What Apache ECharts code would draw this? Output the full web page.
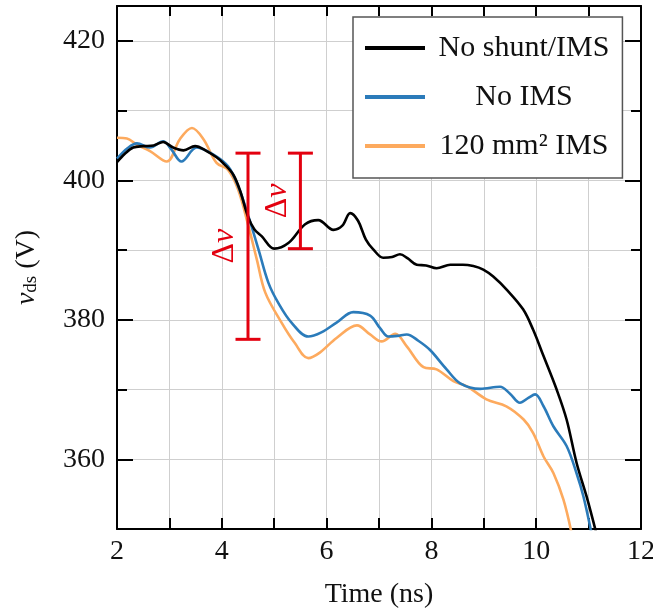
<!DOCTYPE html>
<html>
<head>
<meta charset="utf-8">
<script src="https://cdn.jsdelivr.net/npm/echarts@6/dist/echarts.min.js"></script>
<style>
  html, body { margin: 0; padding: 0; background: #fff; }
  #chart { width: 653px; height: 609px; }
</style>
</head>
<body>
<div id="chart"></div>
<script>
// ---- data ----
const seriesNames = ['No shunt/IMS', 'No IMS', '120 mm² IMS'];

const tBlack = [2.0, 2.15, 2.31, 2.5, 2.7, 2.88, 3.07, 3.27, 3.49, 3.71, 3.9, 4.05, 4.22, 4.35, 4.5, 4.62, 4.76, 5.0, 5.27, 5.59, 5.84, 6.13, 6.3, 6.45, 6.6, 6.75, 6.89, 7.08, 7.25, 7.4, 7.55, 7.72, 7.9, 8.1, 8.36, 8.6, 8.8, 8.99, 9.18, 9.44, 9.75, 9.94, 10.14, 10.39, 10.58, 10.77, 10.96, 11.14];
const vBlack = [402.6, 403.8, 404.7, 404.9, 405.0, 405.5, 404.7, 404.3, 404.9, 404.2, 403.3, 402.3, 400.8, 398.5, 394.8, 393.0, 392.0, 390.2, 391.0, 393.7, 394.3, 392.9, 393.5, 395.3, 394.2, 391.5, 390.1, 388.9, 389.0, 389.4, 388.8, 387.9, 387.8, 387.4, 387.9, 387.9, 387.7, 387.2, 386.2, 384.3, 381.5, 378.6, 374.8, 370.0, 365.7, 359.5, 354.7, 349.6];

const tBlue = [2.0, 2.2, 2.38, 2.63, 2.88, 3.04, 3.23, 3.52, 3.84, 4.12, 4.31, 4.51, 4.70, 4.89, 5.08, 5.33, 5.65, 5.9, 6.19, 6.51, 6.83, 7.02, 7.18, 7.35, 7.53, 7.75, 7.97, 8.29, 8.55, 8.93, 9.31, 9.5, 9.69, 9.85, 9.98, 10.14, 10.33, 10.58, 10.77, 10.90, 11.05];
const vBlue = [403.1, 404.6, 405.3, 404.7, 405.6, 404.4, 402.7, 404.7, 403.7, 402.0, 399.2, 394.8, 390.1, 385.3, 382.4, 379.6, 377.6, 378.2, 379.6, 381.1, 380.6, 378.8, 377.6, 377.7, 377.9, 377.0, 375.7, 372.9, 370.9, 370.1, 370.4, 369.4, 368.1, 368.8, 369.3, 367.6, 364.7, 361.9, 358.0, 354.7, 349.6];

const tOrange = [2.0, 2.19, 2.38, 2.63, 2.95, 3.2, 3.43, 3.65, 3.9, 4.12, 4.31, 4.51, 4.67, 4.83, 5.14, 5.39, 5.65, 5.87, 6.19, 6.58, 6.83, 7.05, 7.31, 7.53, 7.85, 8.10, 8.42, 8.67, 9.05, 9.43, 9.76, 9.94, 10.14, 10.33, 10.52, 10.67];
const vOrange = [406.1, 406.0, 405.1, 404.2, 402.7, 405.9, 407.5, 405.9, 402.5, 401.5, 398.7, 393.4, 388.6, 383.9, 379.6, 376.7, 374.5, 375.3, 377.4, 379.2, 377.9, 376.9, 378.0, 376.2, 373.2, 372.9, 371.2, 370.5, 368.6, 367.6, 365.7, 363.8, 360.4, 358.0, 354.2, 349.6];

// Δv markers: time, low, high
const dvT = [4.5, 5.5];
const dvLow = [377.2, 390.2];
const dvHigh = [403.9, 403.9];

// ticks
const xTickLabels = [2, 4, 6, 8, 10, 12];
const yTickLabels = [360, 380, 400, 420];

// ---- chart ----
const FONT = 'Liberation Serif';
const RED = '#e3000f';
const zip = (a, b) => a.map((v, i) => [v, b[i]]);

const chart = echarts.init(document.getElementById('chart'), null, { renderer: 'canvas' });

const baseX = {
  type: 'value', min: 2, max: 12, interval: 1,
  axisLine: { show: true, lineStyle: { color: '#000', width: 2 } },
  axisTick: { show: true, inside: true, length: 11, lineStyle: { color: '#000', width: 2 } },
  splitLine: { show: false },
  axisLabel: { show: false }
};
const baseY = {
  type: 'value', min: 350, max: 425, interval: 10,
  axisLine: { show: false },
  axisTick: { show: false },
  splitLine: { show: false },
  axisLabel: { show: false }
};

const option = {
  animation: false,
  backgroundColor: '#fff',
  grid: { left: 117, right: 12, top: 6, bottom: 80, containLabel: false, outerBoundsMode: 'none' },
  xAxis: [
    Object.assign({}, baseX, {
      position: 'bottom',
      splitLine: { show: true, lineStyle: { color: '#cfcfcf', width: 1 } },
      axisLabel: { show: true, customValues: xTickLabels, margin: 9, fontFamily: FONT, fontSize: 28, color: '#111' },
      name: 'Time (ns)', nameLocation: 'middle', nameGap: 52,
      nameTextStyle: { fontFamily: FONT, fontSize: 28, color: '#111' }
    }),
    Object.assign({}, baseX, { position: 'top', axisTick: { show: true, inside: true, length: 10, lineStyle: { color: '#000', width: 2 } } })
  ],
  yAxis: [
    Object.assign({}, baseY, {
      position: 'left',
      axisLine: { show: true, lineStyle: { color: '#000', width: 2 } },
      axisTick: { show: true, inside: true, length: 10, lineStyle: { color: '#000', width: 2 } },
      splitLine: { show: true, lineStyle: { color: '#cfcfcf', width: 1 } },
      name: '{v|v}{s|ds}{n| (V)}', nameLocation: 'middle', nameGap: 76,
      nameTextStyle: {
        fontFamily: FONT, fontSize: 28, color: '#111',
        rich: {
          v: { fontFamily: FONT, fontSize: 28, fontStyle: 'italic', color: '#111', verticalAlign: 'middle' },
          s: { fontFamily: FONT, fontSize: 19, color: '#111', verticalAlign: 'bottom', padding: [10, 0, 0, 0] },
          n: { fontFamily: FONT, fontSize: 28, color: '#111', verticalAlign: 'middle' }
        }
      }
    }),
    Object.assign({}, baseY, {
      position: 'left',
      axisTick: { show: true, inside: true, length: 16, customValues: yTickLabels, lineStyle: { color: '#000', width: 2 } },
      axisLabel: { show: true, customValues: yTickLabels, margin: 12, fontFamily: FONT, fontSize: 28, color: '#111' }
    }),
    Object.assign({}, baseY, {
      position: 'right',
      axisLine: { show: true, lineStyle: { color: '#000', width: 2 } },
      axisTick: { show: true, inside: true, length: 10, lineStyle: { color: '#000', width: 2 } }
    }),
    Object.assign({}, baseY, {
      position: 'right',
      axisTick: { show: true, inside: true, length: 16, customValues: yTickLabels, lineStyle: { color: '#000', width: 2 } }
    })
  ],
  legend: {
    data: seriesNames,
    orient: 'vertical', left: 353, top: 17,
    itemWidth: 60, itemHeight: 20, itemGap: 19,
    padding: [16, 13, 17, 10],
    backgroundColor: '#fff', borderColor: '#555', borderWidth: 1.5, borderRadius: 0,
    lineStyle: { width: 4 },
    itemStyle: { opacity: 0 },
    formatter: n => '{c|' + n + '}',
    textStyle: {
      fontFamily: FONT, fontSize: 30, color: '#111',
      rich: { c: { width: 188, align: 'center', fontFamily: FONT, fontSize: 30, color: '#111' } }
    }
  },
  series: [
    { name: seriesNames[0], type: 'line', data: zip(tBlack, vBlack), symbol: 'none', smooth: 0.35, clip: true,
      lineStyle: { color: '#000', width: 2.6 }, itemStyle: { color: '#000' }, z: 4 },
    { name: seriesNames[1], type: 'line', data: zip(tBlue, vBlue), symbol: 'none', smooth: 0.35, clip: true,
      lineStyle: { color: '#2b7bba', width: 2.6 }, itemStyle: { color: '#2b7bba' }, z: 3 },
    { name: seriesNames[2], type: 'line', data: zip(tOrange, vOrange), symbol: 'none', smooth: 0.35, clip: true,
      lineStyle: { color: '#fdaa5e', width: 2.6 }, itemStyle: { color: '#fdaa5e' }, z: 2 },
    {
      type: 'custom', z: 5, silent: true,
      data: dvT.map((t, i) => [t, dvLow[i], dvHigh[i]]),
      renderItem: function (params, api) {
        const lo = api.coord([api.value(0), api.value(1)]);
        const hi = api.coord([api.value(0), api.value(2)]);
        const cap = 12.5;
        const st = { stroke: RED, lineWidth: 3 };
        return {
          type: 'group',
          children: [
            { type: 'line', shape: { x1: lo[0], y1: lo[1], x2: hi[0], y2: hi[1] }, style: st },
            { type: 'line', shape: { x1: lo[0] - cap, y1: lo[1], x2: lo[0] + cap, y2: lo[1] }, style: st },
            { type: 'line', shape: { x1: hi[0] - cap, y1: hi[1], x2: hi[0] + cap, y2: hi[1] }, style: st },
            {
              type: 'text', x: lo[0] - 23, y: (lo[1] + hi[1]) / 2, rotation: Math.PI / 2,
              style: {
                text: '{d|Δ}{v|v}', align: 'center', verticalAlign: 'middle', fill: RED,
                rich: {
                  d: { fontFamily: FONT, fontSize: 32, color: RED },
                  v: { fontFamily: FONT, fontSize: 32, fontStyle: 'italic', color: RED }
                }
              }
            }
          ]
        };
      }
    }
  ]
};
chart.setOption(option);
</script>
</body>
</html>
